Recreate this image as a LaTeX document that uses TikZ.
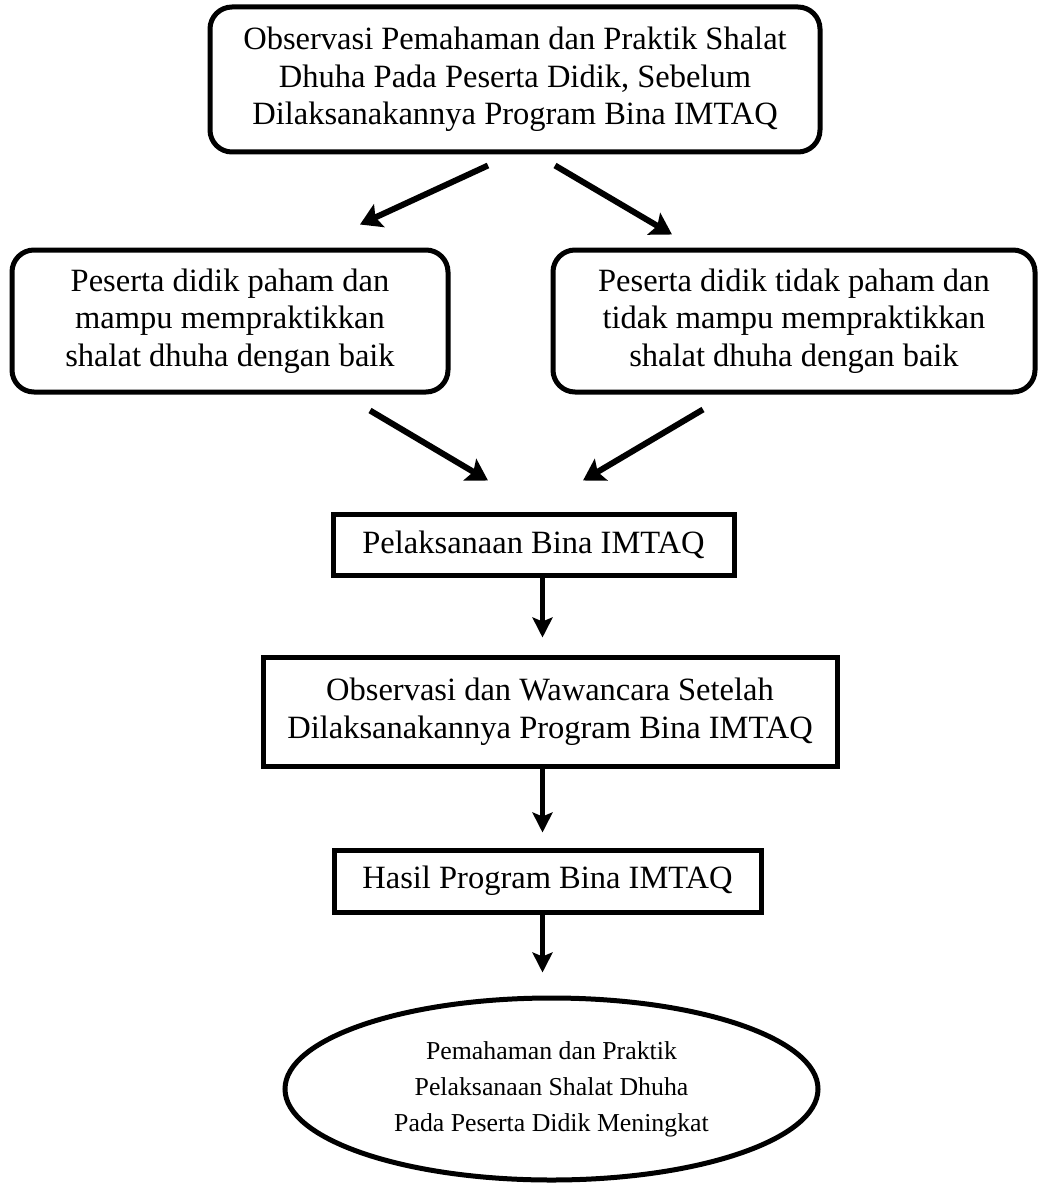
\documentclass[tikz,border=0pt]{standalone}
\usepackage{fontspec}
\setmainfont{Liberation Serif}
\usetikzlibrary{arrows.meta,shapes.geometric}

\tikzset{
	rbox/.style={draw, line width=5pt, rounded corners=22pt, inner sep=0pt, align=center,
		font=\fontsize{32.5}{37.5}\selectfont},
	sbox/.style={draw, line width=5pt, inner sep=0pt, align=center,
		font=\fontsize{32.5}{37.5}\selectfont},
	darr/.style={line width=6pt, -{Stealth[length=21pt,width=25pt,inset=4pt]}},
	varr/.style={line width=4.5pt, -{Stealth[length=20pt,width=20pt,inset=4pt]}}
}

\begin{document}
\begin{tikzpicture}[x=1pt,y=-1pt]
\path[use as bounding box] (0,0) rectangle (1039,1185);

\node[rbox, minimum width=610pt, minimum height=145pt] (obs0) at (515,79.5)
	{Observasi Pemahaman dan Praktik Shalat\\Dhuha Pada Peserta Didik, Sebelum\\Dilaksanakannya Program Bina IMTAQ};
\node[rbox, minimum width=436pt, minimum height=142pt] (yes) at (230,321)
	{Peserta didik paham dan\\mampu mempraktikkan\\shalat dhuha dengan baik};
\node[rbox, minimum width=482pt, minimum height=142pt] (no) at (794,321)
	{Peserta didik tidak paham dan\\tidak mampu mempraktikkan\\shalat dhuha dengan baik};
\node[sbox, minimum width=401pt, minimum height=61pt] (pel) at (533.5,544.5)
	{Pelaksanaan Bina IMTAQ};
\node[sbox, minimum width=574pt, minimum height=109pt] (obs1) at (550,711.5)
	{Observasi dan Wawancara Setelah\\Dilaksanakannya Program Bina IMTAQ};
\node[sbox, minimum width=427pt, minimum height=62pt] (res) at (547.5,881)
	{Hasil Program Bina IMTAQ};
\node[ellipse, draw, line width=5pt, inner sep=0pt, minimum width=533pt, minimum height=182pt,
	align=center, font=\fontsize{25.8}{36}\selectfont] (end) at (551.5,1089)
	{Pemahaman dan Praktik\\Pelaksanaan Shalat Dhuha\\Pada Peserta Didik Meningkat};

\coordinate (ax) at (542.5,0);

\draw[darr] ([xshift=-27pt,yshift=-11pt]obs0.south) -- ([xshift=130pt,yshift=23pt]yes.north);
\draw[darr] ([xshift=40pt,yshift=-11pt]obs0.south) -- ([xshift=-122pt,yshift=13pt]no.north);
\draw[darr] ([xshift=140pt,yshift=-16pt]yes.south) -- ([xshift=-45.5pt,yshift=31pt]pel.north);
\draw[darr] ([xshift=-91pt,yshift=-15pt]no.south) -- ([xshift=49.5pt,yshift=31pt]pel.north);
\draw[varr] (pel.south -| ax) -- ([yshift=17pt]obs1.north -| ax);
\draw[varr] (obs1.south -| ax) -- ([yshift=15pt]res.north -| ax);
\draw[varr] (res.south -| ax) -- ([yshift=23pt]end.north -| ax);
\end{tikzpicture}
\end{document}
